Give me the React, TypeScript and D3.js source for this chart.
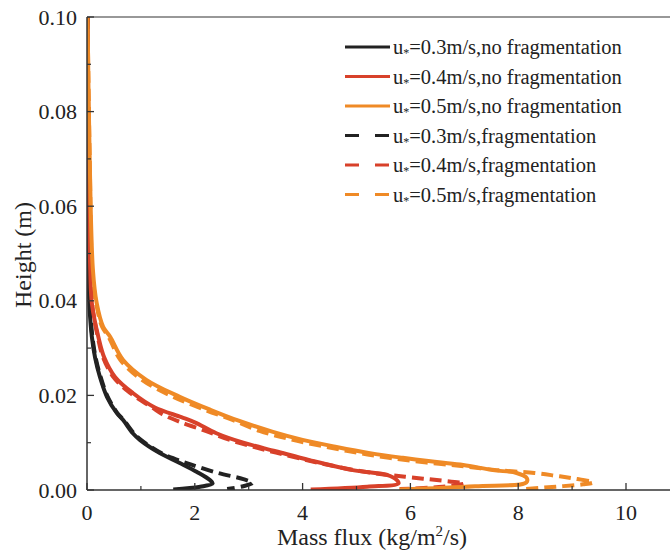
import React from "react";
import * as d3 from "d3";

type P = [number, number]; // [mass flux, height]

const xTicks = [0, 2, 4, 6, 8, 10];
const xMinor = [1, 3, 5, 7, 9];
const yTicks = [0, 0.02, 0.04, 0.06, 0.08, 0.1];
const yMinor = [0.01, 0.03, 0.05, 0.07, 0.09];

const black03NoFrag: P[] = [
  [0.01, 0.1], [0.02, 0.06], [0.03, 0.045], [0.05, 0.038], [0.09, 0.0324], [0.15, 0.028],
  [0.24, 0.0239], [0.37, 0.0197], [0.55, 0.0163], [0.67, 0.0148], [0.85, 0.012], [0.98, 0.0106],
  [1.35, 0.0078], [1.72, 0.0057], [2.04, 0.0038], [2.28, 0.0021], [2.33, 0.0014], [2.1, 0.0007], [1.6, 0.0001],
];
const red04NoFrag: P[] = [
  [0.01, 0.1], [0.03, 0.07], [0.06, 0.0465], [0.09, 0.0395], [0.21, 0.0324], [0.32, 0.028],
  [0.52, 0.0239], [0.85, 0.0205], [1.25, 0.0175], [1.75, 0.0154], [2.0, 0.0143], [2.4, 0.012],
  [2.9, 0.01], [3.5, 0.0082], [4.13, 0.0063], [4.93, 0.0042], [5.56, 0.0032], [5.75, 0.0021],
  [5.78, 0.0014], [5.2, 0.0007], [4.15, 0.0001],
];
const orange05NoFrag: P[] = [
  [0.01, 0.1], [0.05, 0.07], [0.11, 0.0465], [0.18, 0.0395], [0.3, 0.0345], [0.43, 0.0324],
  [0.67, 0.0275], [1.1, 0.0233], [1.72, 0.0197], [2.3, 0.0169], [2.8, 0.0147], [3.45, 0.0123],
  [4.0, 0.0106], [4.63, 0.0091], [5.25, 0.0078], [5.86, 0.0068], [6.49, 0.0059], [6.98, 0.0053],
  [7.53, 0.0042], [7.97, 0.0036], [8.16, 0.0025], [8.15, 0.0016], [7.2, 0.0008], [5.8, 0.0001],
];
const black03Frag: P[] = [
  [0.01, 0.1], [0.02, 0.06], [0.03, 0.046], [0.06, 0.038], [0.1, 0.0324], [0.16, 0.028],
  [0.25, 0.024], [0.38, 0.0198], [0.56, 0.0163], [0.68, 0.0148], [0.87, 0.012], [1.0, 0.0106],
  [1.36, 0.0079], [1.65, 0.0065], [1.95, 0.0053], [2.43, 0.0036], [2.9, 0.0023], [3.07, 0.0015],
  [2.9, 0.0008], [2.6, 0.0002],
];
const red04Frag: P[] = [
  [0.01, 0.1], [0.03, 0.07], [0.06, 0.047], [0.09, 0.0395], [0.2, 0.0324], [0.3, 0.028],
  [0.49, 0.0239], [0.8, 0.0205], [1.2, 0.0175], [1.4, 0.016], [1.7, 0.0145], [2.2, 0.0125],
  [2.7, 0.0104], [3.3, 0.0085], [3.9, 0.0068], [4.6, 0.005], [5.3, 0.0036], [5.9, 0.0028],
  [6.4, 0.0022], [6.9, 0.0016], [7.0, 0.0014], [6.6, 0.0007], [5.8, 0.0002],
];
const orange05Frag: P[] = [
  [0.01, 0.1], [0.05, 0.07], [0.1, 0.046], [0.17, 0.0395], [0.28, 0.0345], [0.4, 0.0324],
  [0.62, 0.0275], [1.02, 0.0233], [1.6, 0.0197], [2.2, 0.0169], [2.7, 0.0148], [3.2, 0.0125],
  [3.75, 0.0108], [4.4, 0.0092], [5.0, 0.0079], [5.6, 0.0068], [6.3, 0.0058], [7.0, 0.005],
  [7.6, 0.0042], [8.3, 0.0036], [8.7, 0.003], [9.0, 0.0025], [9.39, 0.0016], [9.2, 0.0012],
  [8.7, 0.0007], [8.1, 0.0002],
];

const seriesLabels = [
  "=0.3m/s,no fragmentation",
  "=0.4m/s,no fragmentation",
  "=0.5m/s,no fragmentation",
  "=0.3m/s,fragmentation",
  "=0.4m/s,fragmentation",
  "=0.5m/s,fragmentation",
];

const BLACK = "#222222";
const RED = "#d8412a";
const ORANGE = "#ef8a26";

const series = [
  { data: black03NoFrag, color: BLACK, dashed: false },
  { data: red04NoFrag, color: RED, dashed: false },
  { data: orange05NoFrag, color: ORANGE, dashed: false },
  { data: black03Frag, color: BLACK, dashed: true },
  { data: red04Frag, color: RED, dashed: true },
  { data: orange05Frag, color: ORANGE, dashed: true },
];

const W = 670;
const H = 553;
const left = 87;
const bottom = 490;
const top = 17;
const font = "Liberation Serif, DejaVu Serif, serif";

export default function App() {
  const x = d3.scaleLinear().domain([0, 11]).range([left, left + 11 * 53.9]);
  const y = d3.scaleLinear().domain([0, 0.1]).range([bottom, top]);
  const line = d3
    .line<P>()
    .x((d) => x(d[0]))
    .y((d) => y(d[1]))
    .curve(d3.curveCatmullRom.alpha(0.5));
  const axisColor = "#333";
  const drawOrder = [3, 4, 5, 0, 1, 2];
  const ts = { fontFamily: font };

  return (
    <svg
      width={W}
      height={H}
      style={{ position: "absolute", left: 0, top: 0, background: "#fff", fontFamily: font }}
    >
      <defs>
        <clipPath id="plot">
          <rect x={left} y={top - 2} width={W - left} height={bottom - top + 2} />
        </clipPath>
      </defs>
      <g clipPath="url(#plot)">
        {drawOrder.map((i) => {
          const s = series[i];
          return (
            <path
              key={i}
              d={line(s.data) || ""}
              fill="none"
              stroke={s.color}
              strokeWidth={4}
              strokeDasharray={s.dashed ? "12,6" : undefined}
              strokeLinejoin="round"
            />
          );
        })}
      </g>
      {/* frame */}
      <line x1={left} x2={left} y1={top} y2={bottom} stroke={axisColor} strokeWidth={1.5} />
      <line x1={left} x2={W} y1={bottom} y2={bottom} stroke={axisColor} strokeWidth={1.5} />
      <line x1={left} x2={W} y1={top} y2={top} stroke={axisColor} strokeWidth={1.2} />
      {/* x ticks */}
      {xTicks.map((t) => (
        <g key={"xt" + t}>
          <line x1={x(t)} x2={x(t)} y1={bottom} y2={bottom - 7} stroke={axisColor} strokeWidth={1.3} />
          <text x={x(t)} y={520} textAnchor="middle" fontSize={22} fill="#222" style={ts}>
            {t}
          </text>
        </g>
      ))}
      {xMinor.map((t) => (
        <line key={"xm" + t} x1={x(t)} x2={x(t)} y1={bottom} y2={bottom - 4} stroke={axisColor} strokeWidth={1.2} />
      ))}
      {/* y ticks */}
      {yTicks.map((t) => (
        <g key={"yt" + t}>
          <line x1={left} x2={left + 7} y1={y(t)} y2={y(t)} stroke={axisColor} strokeWidth={1.3} />
          <text x={77} y={y(t) + 7.5} textAnchor="end" fontSize={22} fill="#222" style={ts}>
            {t.toFixed(2)}
          </text>
        </g>
      ))}
      {yMinor.map((t) => (
        <line key={"ym" + t} x1={left} x2={left + 4} y1={y(t)} y2={y(t)} stroke={axisColor} strokeWidth={1.2} />
      ))}
      {/* axis titles */}
      <text x={372} y={545} textAnchor="middle" fontSize={24} fill="#222" style={ts}>
        Mass flux (kg/m<tspan dy={-9} fontSize={15}>2</tspan>
        <tspan dy={9}>/s)</tspan>
      </text>
      <text
        transform={`translate(31,255) rotate(-90)`}
        textAnchor="middle"
        fontSize={24}
        fill="#222"
        style={ts}
      >
        Height (m)
      </text>
      {/* legend */}
      {series.map((s, i) => {
        const ly = 47 + i * 29.5;
        return (
          <g key={"lg" + i}>
            <line
              x1={345}
              x2={390}
              y1={ly}
              y2={ly}
              stroke={s.color}
              strokeWidth={3}
              strokeDasharray={s.dashed ? "14,16" : undefined}
            />
            <text x={393} y={ly + 7} fontSize={20.5} fill="#222" style={ts}>
              u<tspan dy={3} fontSize={12}>*</tspan>
              <tspan dy={-3}>{seriesLabels[i]}</tspan>
            </text>
          </g>
        );
      })}
    </svg>
  );
}
